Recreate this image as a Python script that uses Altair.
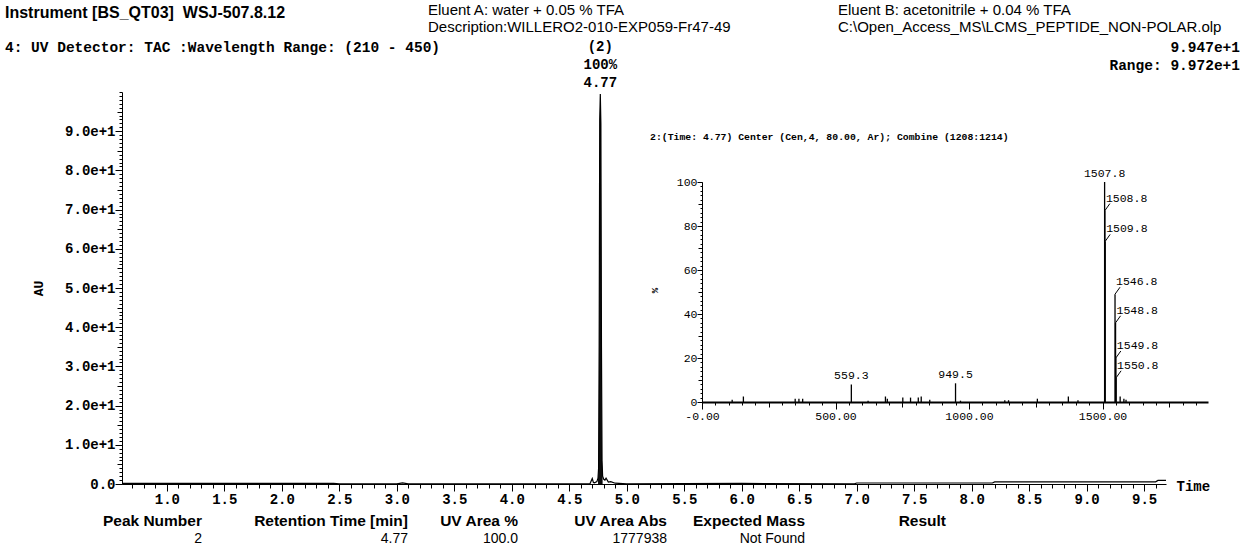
import altair as alt
import pandas as pd

# ---------------- data ----------------
# UV chromatogram (retention time [min], absorbance [AU])
rt_min = [0.61, 2.45, 2.50, 3.00, 3.05, 3.10, 4.00, 4.68, 4.70, 4.71, 4.72, 4.74,
          4.750, 4.755, 4.760, 4.765, 4.770, 4.775, 4.780, 4.785, 4.790, 4.800,
          4.810, 4.820, 4.840, 4.860, 4.900, 5.00, 6.00, 6.98, 7.00, 8.18, 8.20,
          9.60, 9.62, 9.69]
uv_au = [0.15, 0.15, 0.05, 0.05, 0.30, 0.05, 0.05, 0.05, 1.40, 0.40, 0.30, 0.60,
         1.5, 4.0, 35.0, 93.0, 99.47, 92.0, 35.0, 6.0, 2.0, 1.2,
         1.0, 1.5, 0.5, 0.6, 0.2, 0.05, 0.15, 0.05, 0.25, 0.25, 0.55,
         0.55, 0.9, 0.9]

# Mass spectrum at 4.77 min (m/z, relative intensity %)
mz = [113, 155, 349, 363, 377, 559.3, 622, 687, 694, 752, 781, 810, 821, 853,
      949.5, 968, 1134, 1148, 1256, 1372, 1408, 1507.8, 1508.8, 1509.8, 1546.8,
      1548.8, 1549.8, 1550.8, 1566, 1580, 1588]
intensity = [1.0, 2.5, 1.5, 1.5, 1.5, 8.0, 0.6, 2.5, 1.5, 2.0, 2.0, 2.0, 2.5, 1.0,
             8.5, 0.6, 0.8, 0.8, 1.5, 2.5, 0.8, 100.0, 87.0, 73.0, 49.0,
             36.0, 20.0, 11.0, 2.5, 1.5, 1.0]
top_labelled = [1507.8, 559.3, 949.5]
side_labelled = [1508.8, 1509.8, 1546.8, 1548.8, 1549.8, 1550.8]

# peak table
table_headers = ["Peak Number", "Retention Time [min]", "UV Area %", "UV Area Abs", "Expected Mass", "Result"]
table_values = ["2", "4.77", "100.0", "1777938", "Not Found", ""]

# axis tick values
main_x_major = [1.0 + 0.5 * i for i in range(18)]
main_x_minor = [round(0.7 + 0.1 * i, 1) for i in range(90)]
main_y_major = [10 * i for i in range(10)]
main_y_mid = [5 + 10 * i for i in range(10)]
main_y_minor = list(range(0, 101))
ins_x_major = [0, 500, 1000, 1500]
ins_x_mid = [250, 750, 1250, 1750]
ins_x_minor = [50 * i for i in range(38)]
ins_y_major = [0, 20, 40, 60, 80, 100]
ins_y_mid = [10, 30, 50, 70, 90]
ins_y_minor = [2 * i for i in range(51)]

# ---------------- layout ----------------
MONO = "Liberation Mono"
SANS = "Liberation Sans"
W, H = 1044, 392
OX, OY = 122, 92

df_uv = pd.DataFrame({"rt": rt_min, "au": uv_au})
df_peak = df_uv[(df_uv["rt"] >= 4.745) & (df_uv["rt"] <= 4.795)]
df_ms = pd.DataFrame({"mz": mz, "inten": intensity})
df_ms["lab"] = df_ms["mz"].map(lambda v: f"{v:.1f}")
df_top = df_ms[df_ms["mz"].isin(top_labelled)]
df_side = df_ms[df_ms["mz"].isin(side_labelled)]

xs_main = alt.Scale(domain=[0.61, 9.69], nice=False, zero=False)
ys_main = alt.Scale(domain=[0, 100], nice=False, zero=False)
xs_ins = alt.Scale(domain=[0, 1895], range=[580, 1086], nice=False, zero=False)
ys_ins = alt.Scale(domain=[0, 100], range=[310, 90], nice=False, zero=False)

layers = []

# main trace
layers.append(alt.Chart(df_peak).mark_area(color="black", opacity=0.95).encode(
    x=alt.X("rt:Q", scale=xs_main, axis=None),
    y=alt.Y("au:Q", scale=ys_main, axis=None)))
layers.append(alt.Chart(df_uv).mark_line(color="black", strokeWidth=1.2).encode(
    x=alt.X("rt:Q", scale=xs_main, axis=None),
    y=alt.Y("au:Q", scale=ys_main, axis=None)))


def x_axis_layer(df, field, scale, axis):
    return alt.Chart(df).mark_point(opacity=0).encode(
        x=alt.X(field, scale=scale, axis=axis))


def y_axis_layer(df, field, scale, axis):
    return alt.Chart(df).mark_point(opacity=0).encode(
        y=alt.Y(field, scale=scale, axis=axis))


tick_common = dict(tickColor="black", tickWidth=1, grid=False, labelColor="black")

# main x axes
layers.append(x_axis_layer(df_uv, "rt:Q", xs_main, alt.Axis(
    orient="bottom", values=main_x_major, format=".1f", tickSize=7,
    domain=True, domainColor="black", domainWidth=1,
    labelFont=MONO, labelFontSize=14, labelFontWeight="bold", labelPadding=1,
    labelOverlap=False, labelFlush=False,
    title="Time", titleFont=MONO, titleFontSize=14, titleFontWeight="bold",
    titleColor="black", titleX=1054, titleY=2, titleAlign="left",
    titleBaseline="middle", titleAngle=0, **tick_common)))
layers.append(x_axis_layer(df_uv, "rt:Q", xs_main, alt.Axis(
    orient="bottom", values=main_x_minor, tickSize=4, labels=False, domain=False,
    title=None, **tick_common)))

# main y axes
layers.append(y_axis_layer(df_uv, "au:Q", ys_main, alt.Axis(
    orient="left", values=main_y_major, tickSize=7,
    labelExpr="datum.value == 0 ? '0.0' : format(datum.value / 10, '.1f') + 'e+1'",
    domain=True, domainColor="black", domainWidth=1,
    labelFont=MONO, labelFontSize=14, labelFontWeight="bold", labelPadding=0,
    labelOverlap=False, labelFlush=False,
    title="AU", titleFont=MONO, titleFontSize=13, titleFontWeight="bold",
    titleColor="black", titleX=-84, titleY=196, titleAlign="center",
    titleBaseline="middle", titleAngle=270, **tick_common)))
layers.append(y_axis_layer(df_uv, "au:Q", ys_main, alt.Axis(
    orient="left", values=main_y_mid, tickSize=5, labels=False, domain=False,
    title=None, **tick_common)))
layers.append(y_axis_layer(df_uv, "au:Q", ys_main, alt.Axis(
    orient="left", values=main_y_minor, tickSize=3, labels=False, domain=False,
    title=None, **tick_common)))

# peak annotation
for txt, dy in [("4.77", -11), ("100%", -29), ("(2)", -47)]:
    layers.append(alt.Chart(df_uv[df_uv["au"] == df_uv["au"].max()]).mark_text(
        font=MONO, fontSize=14, fontWeight="bold", color="black",
        align="center", baseline="middle", dy=dy, text=txt).encode(
        x=alt.X("rt:Q", scale=xs_main, axis=None),
        y=alt.Y("au:Q", scale=ys_main, axis=None)))

# inset spectrum sticks
layers.append(alt.Chart(df_ms).mark_rule(color="black", strokeWidth=1.3).encode(
    x=alt.X("mz:Q", scale=xs_ins, axis=None),
    y=alt.Y("inten:Q", scale=ys_ins, axis=None),
    y2=alt.datum(0)))

# inset axes
layers.append(x_axis_layer(df_ms, "mz:Q", xs_ins, alt.Axis(
    orient="bottom", offset=-82, values=ins_x_major, tickSize=7,
    labelExpr="datum.value == 0 ? '-0.00' : format(datum.value, '.2f')",
    domain=True, domainColor="black", domainWidth=2,
    labelFont=MONO, labelFontSize=11.5, labelFontWeight="normal", labelPadding=1,
    labelOverlap=False, labelFlush=False, title=None, **tick_common)))
layers.append(x_axis_layer(df_ms, "mz:Q", xs_ins, alt.Axis(
    orient="bottom", offset=-82, values=ins_x_mid, tickSize=5, labels=False,
    domain=False, title=None, **tick_common)))
layers.append(x_axis_layer(df_ms, "mz:Q", xs_ins, alt.Axis(
    orient="bottom", offset=-82, values=ins_x_minor, tickSize=3, labels=False,
    domain=False, title=None, **tick_common)))
layers.append(y_axis_layer(df_ms, "inten:Q", ys_ins, alt.Axis(
    orient="left", offset=-580, values=ins_y_major, tickSize=5, format="d",
    domain=True, domainColor="black", domainWidth=1,
    labelFont=MONO, labelFontSize=11.5, labelFontWeight="normal", labelPadding=0,
    labelOverlap=False, labelFlush=False,
    title="%", titleFont=MONO, titleFontSize=9, titleFontWeight="bold",
    titleColor="black", titleX=-48, titleY=198, titleAlign="center",
    titleBaseline="middle", titleAngle=270, **tick_common)))
layers.append(y_axis_layer(df_ms, "inten:Q", ys_ins, alt.Axis(
    orient="left", offset=-580, values=ins_y_mid, tickSize=4, labels=False,
    domain=False, title=None, **tick_common)))
layers.append(y_axis_layer(df_ms, "inten:Q", ys_ins, alt.Axis(
    orient="left", offset=-580, values=ins_y_minor, tickSize=2, labels=False,
    domain=False, title=None, **tick_common)))

# inset peak labels
layers.append(alt.Chart(df_top).mark_text(
    font=MONO, fontSize=11.5, color="black", align="center", baseline="bottom", dy=-3).encode(
    x=alt.X("mz:Q", scale=xs_ins, axis=None),
    y=alt.Y("inten:Q", scale=ys_ins, axis=None),
    text="lab:N"))
layers.append(alt.Chart(df_side).mark_rule(
    color="black", strokeWidth=1, x2Offset=5, y2Offset=-7).encode(
    x=alt.X("mz:Q", scale=xs_ins, axis=None),
    x2="mz:Q",
    y=alt.Y("inten:Q", scale=ys_ins, axis=None),
    y2="inten:Q"))
layers.append(alt.Chart(df_side).mark_text(
    font=MONO, fontSize=11.5, color="black", align="left", baseline="bottom", dx=1, dy=-7).encode(
    x=alt.X("mz:Q", scale=xs_ins, axis=None),
    y=alt.Y("inten:Q", scale=ys_ins, axis=None),
    text="lab:N"))


# free text (header, inset title, table)
def label(txt, x, y, size, font=MONO, weight="bold", align="left"):
    return alt.Chart(pd.DataFrame({"t": [txt]})).mark_text(
        font=font, fontSize=size, fontWeight=weight, color="black",
        align=align, baseline="middle").encode(
        x=alt.value(x - OX), y=alt.value(y - OY), text="t:N")


layers.append(label("Instrument [BS_QT03]\u00a0\u00a0WSJ-507.8.12", 5, 13, 16, SANS, "bold"))
layers.append(label("Eluent A: water + 0.05 % TFA", 428, 10, 15, SANS, "normal"))
layers.append(label("Description:WILLERO2-010-EXP059-Fr47-49", 428, 27, 15, SANS, "normal"))
layers.append(label("Eluent B: acetonitrile + 0.04 % TFA", 838, 10, 15, SANS, "normal"))
layers.append(label("C:\\Open_Access_MS\\LCMS_PEPTIDE_NON-POLAR.olp", 838, 27, 15, SANS, "normal"))
layers.append(label("4: UV Detector: TAC :Wavelength Range: (210 - 450)", 5, 48, 14.5))
layers.append(label("9.947e+1", 1240, 48, 14.5, align="right"))
layers.append(label("Range: 9.972e+1", 1240, 66, 14.5, align="right"))
layers.append(label("2:(Time: 4.77) Center (Cen,4, 80.00, Ar); Combine (1208:1214)", 650, 137, 9.8, MONO, "bold"))

col_right = [202, 408, 518, 667, 805, 946]
for hdr, val, xr in zip(table_headers, table_values, col_right):
    layers.append(label(hdr, xr, 521, 15.5, SANS, "bold", "right"))
    if val:
        layers.append(label(val, xr, 539, 14, SANS, "normal", "right"))

chart = alt.layer(*layers).resolve_scale(
    x="independent", y="independent").resolve_axis(
    x="independent", y="independent").properties(
    width=W, height=H,
    padding={"left": OX, "top": OY, "right": 1247 - OX - W, "bottom": 548 - OY - H},
    autosize=alt.AutoSizeParams(type="none"),
    background="white").configure_view(stroke=None)

chart.save("out.html", embed_options={"renderer": "svg", "actions": False})
